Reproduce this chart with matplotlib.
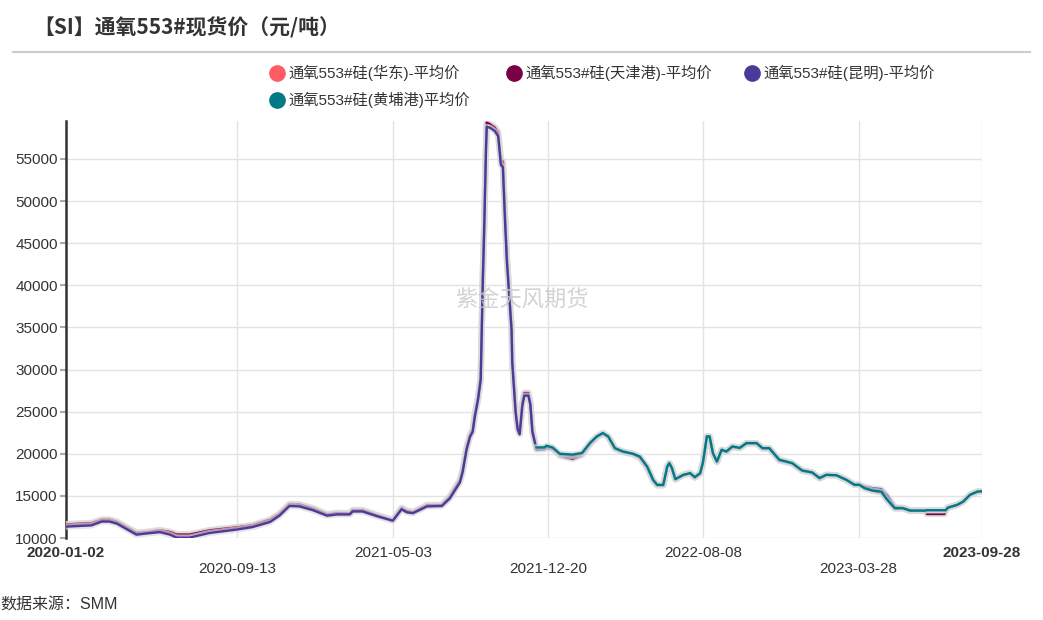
import matplotlib
matplotlib.use('Agg')
import matplotlib.pyplot as plt
import matplotlib.patheffects as pe
import numpy as np
import pandas as pd

plt.rcParams['font.family'] = ['Liberation Sans', 'Noto Sans CJK SC', 'DejaVu Sans']

title = '【SI】通氧553#现货价（元/吨）'
series_names = ['通氧553#硅(华东)-平均价', '通氧553#硅(天津港)-平均价',
                '通氧553#硅(昆明)-平均价', '通氧553#硅(黄埔港)平均价']
colors = ['#ff5c65', '#7a0046', '#4a3a9a', '#007a85']
source = '数据来源：SMM'
watermark = '紫金天风期货'

dates = [
    '2020-01-02', '2020-02-09', '2020-02-24', '2020-03-07', '2020-03-18', '2020-04-16',
    '2020-05-02', '2020-05-21', '2020-06-05', '2020-06-15', '2020-07-04', '2020-08-03',
    '2020-09-12', '2020-10-06', '2020-11-01', '2020-11-15', '2020-11-30', '2020-12-15',
    '2021-01-04', '2021-01-25', '2021-02-09', '2021-02-28', '2021-03-04', '2021-03-19',
    '2021-04-09', '2021-05-03', '2021-05-16', '2021-05-24', '2021-06-02', '2021-06-23',
    '2021-07-15', '2021-07-27', '2021-08-11', '2021-08-15', '2021-08-21', '2021-08-26',
    '2021-08-30', '2021-09-02', '2021-09-07', '2021-09-11', '2021-09-14', '2021-09-16',
    '2021-09-19', '2021-09-20', '2021-09-25', '2021-10-02', '2021-10-07', '2021-10-11',
    '2021-10-14', '2021-10-17', '2021-10-20', '2021-10-24', '2021-10-27', '2021-10-28',
    '2021-11-02', '2021-11-05', '2021-11-08', '2021-11-12', '2021-11-15', '2021-11-21',
    '2021-11-24', '2021-11-27',
    '2021-12-03', '2021-12-15', '2021-12-18', '2021-12-27',
    '2022-01-07', '2022-01-26', '2022-02-09', '2022-02-21', '2022-03-03', '2022-03-12',
    '2022-03-20', '2022-03-30', '2022-04-11', '2022-04-26', '2022-05-06', '2022-05-17',
    '2022-05-26', '2022-06-01', '2022-06-10', '2022-06-16', '2022-06-19', '2022-06-23',
    '2022-06-28', '2022-07-10', '2022-07-20', '2022-07-27', '2022-08-04', '2022-08-08',
    '2022-08-14', '2022-08-18', '2022-08-23', '2022-08-29', '2022-09-05', '2022-09-12',
    '2022-09-21', '2022-10-02', '2022-10-12', '2022-10-27', '2022-11-05', '2022-11-15',
    '2022-11-30', '2022-12-19',
    '2023-01-03', '2023-01-18', '2023-01-29', '2023-02-08', '2023-02-23', '2023-03-10',
    '2023-03-22', '2023-03-29', '2023-04-06', '2023-04-18', '2023-05-01', '2023-05-10',
    '2023-05-21', '2023-06-02', '2023-06-13', '2023-07-05', '2023-07-08', '2023-08-03',
    '2023-08-05', '2023-08-08', '2023-08-22', '2023-08-31', '2023-09-10', '2023-09-21',
    '2023-09-28',
]

huadong = [
    11650, 11800, 12200, 12200, 11950, 10650,
    10750, 10950, 10750, 10450, 10450, 10950,
    11300, 11550, 12200, 12900, 14050, 14000,
    13550, 12850, 13000, 12950, 13330, 13330,
    12750, 12150, 13600, 13250, 13100, 13930,
    13930, 14920, 16900, 18100, 20800, 22260,
    22850, 24640, 26780, 29160, 41060, 47000,
    57000, 59400, 59150, 58800, 58200, 55000,
    54800, 49000, 43400, 38700, 35100, 31200,
    25230, 23200, 22500, 26060, 27250, 27250,
    26060, 22850,
    20700, 20700, 20870, 20700,
    19800, 19450, 19900, 21200, 22000, 22460,
    22060, 20670, 20270, 20000, 19600, 18400,
    16850, 16300, 16300, 18490, 18890, 18290,
    16990, 17550, 17750, 17230, 17700, 18900,
    22060, 22060, 20080, 19080, 20480, 20270,
    20870, 20700, 21270, 21270, 20670, 20670,
    19290, 18900,
    18020, 17780, 17100, 17500, 17450, 16900,
    16310, 16310, 15910, 15630, 15450, 14520,
    13530, 13530, 13250, 13250, 12900, 12900,
    13300, 13600, 13930, 14320, 15120, 15500,
    15550,
]

tianjin = [
    11600, 11750, 12150, 12150, 11900, 10600,
    10700, 10900, 10700, 10400, 10400, 10900,
    11250, 11500, 12150, 12850, 14000, 13950,
    13500, 12800, 12950, 12900, 13300, 13300,
    12700, 12100, 13550, 13200, 13050, 13900,
    13900, 14900, 16850, 18050, 20750, 22200,
    22800, 24600, 26700, 29100, 41000, 46900,
    56900, 59300, 59100, 58700, 58100, 54900,
    54700, 48900, 43300, 38600, 35000, 31100,
    25200, 23150, 22450, 26000, 27200, 27200,
    26000, 22800,
    20650, 20650, 20800, 20650,
    19750, 19400, 19850, 21150, 21950, 22400,
    22000, 20600, 20200, 19950, 19550, 18350,
    16800, 16250, 16250, 18450, 18850, 18250,
    16950, 17500, 17700, 17200, 17650, 18850,
    22000, 22000, 20050, 19050, 20450, 20250,
    20850, 20700, 21250, 21250, 20650, 20650,
    19250, 18850,
    18000, 17750, 17050, 17450, 17400, 16850,
    16300, 16300, 15900, 15600, 15400, 14500,
    13500, 13500, 13200, 13200, 12850, 12850,
    13300, 13600, 13930, 14320, 15120, 15500,
    15550,
]

kunming = [
    11350, 11500, 11950, 11950, 11700, 10400,
    10550, 10700, 10400, 10050, 10050, 10600,
    11000, 11300, 11900, 12650, 13800, 13750,
    13300, 12650, 12800, 12800, 13150, 13150,
    12600, 12050, 13400, 13050, 12950, 13750,
    13800, 14700, 16600, 17800, 20500, 22000,
    22600, 24300, 26400, 28800, 40000, 46000,
    56500, 58800, 58700, 58300, 57700, 54300,
    54000, 48000, 42800, 38200, 34600, 30800,
    24900, 22900, 22300, 25700, 26900, 26900,
    25800, 22600,
    20500, 20550, 20700, 20600,
    19900, 19700, 20000, 21200, 22000, 22400,
    22000, 20600, 20200, 19950, 19550, 18350,
    16800, 16250, 16250, 18450, 18850, 18250,
    16950, 17450, 17650, 17150, 17650, 18850,
    22060, 22060, 20000, 19000, 20400, 20200,
    20800, 20650, 21200, 21200, 20600, 20600,
    19200, 18850,
    17950, 17750, 17200, 17500, 17450, 16900,
    16350, 16350, 16100, 15900, 15800, 15000,
    13700, 13600, 13300, 13250, 13300, 13300,
    13300, 13600, 13930, 14320, 15120, 15500,
    15550,
]

huangpu_start = '2021-12-03'
huangpu = [
    20750, 20750, 20950, 20750,
    20000, 19900, 20100, 21300, 22060, 22460,
    22060, 20670, 20270, 20000, 19680, 18490,
    16900, 16310, 16310, 18490, 18890, 18290,
    16990, 17500, 17700, 17230, 17700, 18900,
    22060, 22060, 20080, 19080, 20480, 20270,
    20870, 20700, 21270, 21270, 20670, 20670,
    19290, 18900,
    18020, 17780, 17100, 17500, 17450, 16900,
    16310, 16310, 15910, 15630, 15500, 14520,
    13530, 13530, 13250, 13250, 13300, 13300,
    13300, 13600, 13930, 14320, 15120, 15500,
    15550,
]

tick_dates = ['2020-01-02', '2020-09-13', '2021-05-03', '2021-12-20',
              '2022-08-08', '2023-03-28', '2023-09-28']
y_ticks = [10000, 15000, 20000, 25000, 30000, 35000, 40000, 45000, 50000, 55000]

dt = pd.to_datetime(dates)
hp_idx = dates.index(huangpu_start)
all_x = [dt, dt, dt, dt[hp_idx:]]
all_y = [huadong, tianjin, kunming, huangpu]

W, H = 1043, 620
fig = plt.figure(figsize=(W / 100, H / 100), dpi=100)
ax = fig.add_axes([66 / W, 1 - 538 / H, (982 - 66) / W, (538 - 121) / H])

shadow = [pe.Stroke(linewidth=4.5, foreground='#d9d9d9', alpha=0.7), pe.Normal()]
for xs, ys, c, name in zip(all_x, all_y, colors, series_names):
    ax.plot(xs, ys, color=c, lw=1.7, label=name, path_effects=shadow, zorder=3)

ax.set_xlim(pd.Timestamp(tick_dates[0]), pd.Timestamp(tick_dates[-1]))
ax.set_ylim(10000, 59500)

tx = pd.to_datetime(tick_dates)
labels = []
for i, t in enumerate(tick_dates):
    labels.append(t if i % 2 == 0 else '\n' + t)
ax.set_xticks(tx)
ax.set_xticklabels(labels, fontsize=11, color='#333333', linespacing=1.15)
tl = ax.get_xticklabels()
tl[0].set_fontweight('bold')
tl[-1].set_fontweight('bold')
ax.tick_params(axis='x', length=0, pad=6)

ax.set_yticks(y_ticks)
ax.set_yticklabels([str(v) for v in y_ticks], fontsize=11, color='#333333')
ax.tick_params(axis='y', length=4, width=1.5, color='#aaaaaa', pad=2)

ax.grid(True, color='#e3e3e3', lw=1.0, zorder=0)
ax.set_axisbelow(True)
for s in ['top', 'right', 'bottom']:
    ax.spines[s].set_visible(False)
ax.spines['left'].set_color('#333333')
ax.spines['left'].set_linewidth(1.8)

cjk = ['Liberation Sans', 'Noto Sans CJK SC', 'DejaVu Sans']

# title and separator line
fig.text(33 / W, 1 - 28 / H, title, fontsize=15, fontweight='bold', color='#333333',
         va='center', ha='left', family=['Noto Sans CJK SC', 'DejaVu Sans'])
fig.add_artist(plt.Line2D([13 / W, 1030 / W], [1 - 52 / H, 1 - 52 / H],
                          color='#cccccc', lw=1.5))

# legend
leg_pos = [(277, 73), (514, 73), (752, 73), (277, 100)]
for (lx, ly), c, name in zip(leg_pos, colors, series_names):
    fig.add_artist(plt.Line2D([lx / W], [1 - ly / H], marker='o', markersize=11,
                              color=c, linestyle='none'))
    fig.text((lx + 11) / W, 1 - ly / H, name, fontsize=11, color='#333333',
             va='center', ha='left', family=cjk)

# watermark
fig.text(522 / W, 1 - 300 / H, watermark, fontsize=16, color='#c8c8c8', alpha=0.8,
         ha='center', va='center', family=['Noto Sans CJK SC', 'DejaVu Sans'])

fig.text(0 / W, 1 - 605 / H, source, fontsize=11.5, color='#333333', ha='left', va='center',
         family=cjk)

fig.savefig('out.png', dpi=100)
